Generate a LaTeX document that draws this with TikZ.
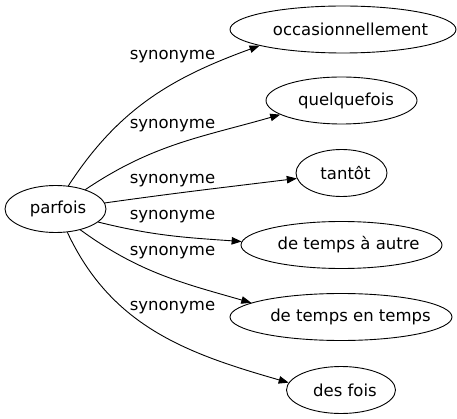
\documentclass[tikz,border=0pt]{standalone}
\usepackage{fontspec}
\setmainfont{DejaVu Sans}
\usetikzlibrary{shapes.geometric, arrows.meta, positioning}

% nudge the text a little right of the centre, without widening the node
\newcommand{\padtext}[2]{\makebox[0pt]{\hspace*{#1}#2}}

\tikzset{
  word/.style={ellipse, draw, line width=0.9pt, inner sep=0pt, minimum height=47pt, font=\fontsize{16.5}{18}\selectfont},
  rel/.style={font=\fontsize{16.5}{18}\selectfont, inner sep=0pt},
  syn/.style={line width=0.9pt, -{Triangle[length=10pt,width=7.5pt]}},
}

\begin{document}
\begin{tikzpicture}[x=1pt,y=1pt]
    \useasboundingbox (0,0) rectangle (457,-419);

    % Source word
    \node[word, minimum width=101pt] (parfois) at (55.5,-209) {\padtext{5pt}{parfois}};

    % Synonyms
    \node[word, minimum width=226pt] (occ) at (343,-29.5) {\padtext{15pt}{occasionnellement}};
    \node[word, minimum width=151pt] (quel) at (341.5,-100.5) {\padtext{9pt}{quelquefois}};
    \node[word, minimum width=91pt] (tantot) at (341.5,-173) {\padtext{8pt}{tantôt}};
    \node[word, minimum width=201pt] (autre) at (341.5,-245) {\padtext{14pt}{de temps à autre}};
    \node[word, minimum width=222pt] (entemps) at (341,-317) {\padtext{19pt}{de temps en temps}};
    \node[word, minimum width=109pt] (desfois) at (341,-390) {\padtext{8pt}{des fois}};

    % Edge labels
    \node[rel] (lab1) at (172.5,-57) {synonyme};
    \node[rel] (lab2) at (172.5,-126) {synonyme};
    \node[rel] (lab3) at (172.5,-181) {synonyme};
    \node[rel] (lab4) at (172.5,-216.5) {synonyme};
    \node[rel] (lab5) at (172.5,-253) {synonyme};
    \node[rel] (lab6) at (172.5,-308) {synonyme};

    % Connectors
    \draw[syn] (parfois.61.5) to[out=57,in=200] (occ.191.5);
    \draw[syn] (parfois.33) to[out=34,in=196] (quel.193);
    \draw[syn] (parfois.7) to[out=8,in=187] (tantot.187);
    \draw[syn] (parfois.-17) to[out=-14,in=176] (autre.178);
    \draw[syn] (parfois.-40.5) to[out=-36,in=164] (entemps.171);
    \draw[syn] (parfois.-63.5) to[out=-65,in=164] (desfois.172);
\end{tikzpicture}
\end{document}
